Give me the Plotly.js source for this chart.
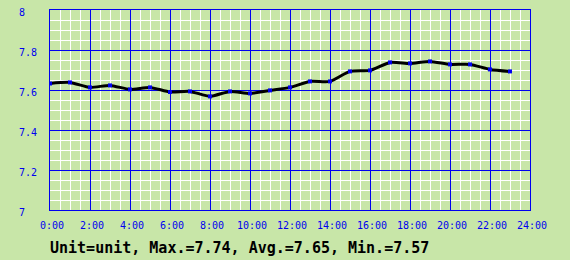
<!DOCTYPE html>
<html>
<head>
<meta charset="utf-8">
<script src="https://cdn.plot.ly/plotly-3.0.1.min.js"></script>
<style>html,body{margin:0;padding:0;background:#c8e6a8;}</style>
</head>
<body>
<div id="chart" style="width:570px;height:260px;"></div>
<script>
// Hourly readings 0:00 .. 23:00
const hours = [0,1,2,3,4,5,6,7,8,9,10,11,12,13,14,15,16,17,18,19,20,21,22,23];
const values = [7.633,7.638,7.613,7.623,7.603,7.613,7.590,7.593,7.568,7.593,7.583,7.598,
                7.613,7.643,7.643,7.693,7.698,7.738,7.733,7.743,7.728,7.728,7.703,7.693];
const xTickVals = [0,2,4,6,8,10,12,14,16,18,20,22,24];
const xTickText = ["0:00","2:00","4:00","6:00","8:00","10:00","12:00","14:00","16:00","18:00","20:00","22:00","24:00"];
const yTickVals = [7,7.2,7.4,7.6,7.8,8];
const yTickText = ["7\u00a0\u00a0","7.2","7.4","7.6","7.8","8\u00a0\u00a0"];
const summary = "Unit=unit, Max.=7.74, Avg.=7.65, Min.=7.57";

const bg = "#c8e6a8";
const blue = "#0000f0";
const tickFont = {family: "DejaVu Sans Mono, monospace", size: 10, color: blue};

const trace = {
  x: hours, y: values, type: "scatter", mode: "lines+markers",
  line: {color: "#000000", width: 3, shape: "spline", smoothing: 0.6},
  marker: {color: blue, size: 4, symbol: "square"},
  hoverinfo: "skip"
};

const layout = {
  width: 570, height: 260,
  margin: {l: 50, r: 40, t: 10, b: 50, pad: 0},
  paper_bgcolor: bg, plot_bgcolor: bg,
  showlegend: false,
  xaxis: {
    range: [0, 24], tickvals: xTickVals, ticktext: xTickText,
    showgrid: true, gridcolor: blue, gridwidth: 1,
    minor: {dtick: 0.5, tick0: 0, showgrid: true, gridcolor: "#ffffff", gridwidth: 1, ticks: ""},
    showline: true, linecolor: blue, linewidth: 1, mirror: true,
    ticks: "", tickfont: tickFont, ticklabelstandoff: 6, ticklabelshift: 2,
    zeroline: false, fixedrange: true
  },
  yaxis: {
    range: [7, 8], tickvals: yTickVals, ticktext: yTickText,
    showgrid: true, gridcolor: blue, gridwidth: 1,
    minor: {dtick: 0.05, tick0: 7, showgrid: true, gridcolor: "#ffffff", gridwidth: 1, ticks: ""},
    showline: true, linecolor: blue, linewidth: 1, mirror: true,
    ticks: "", tickfont: tickFont, ticklabelstandoff: 10, ticklabelshift: 2,
    zeroline: false, fixedrange: true
  },
  annotations: [{
    text: summary, xref: "paper", yref: "paper", x: -0.004, y: -0.19,
    xanchor: "left", yanchor: "middle", showarrow: false,
    font: {family: "DejaVu Sans Mono, monospace", size: 15, color: "#000000", weight: "bold"}
  }]
};

Plotly.newPlot("chart", [trace], layout, {staticPlot: true, displayModeBar: false});
</script>
</body>
</html>
